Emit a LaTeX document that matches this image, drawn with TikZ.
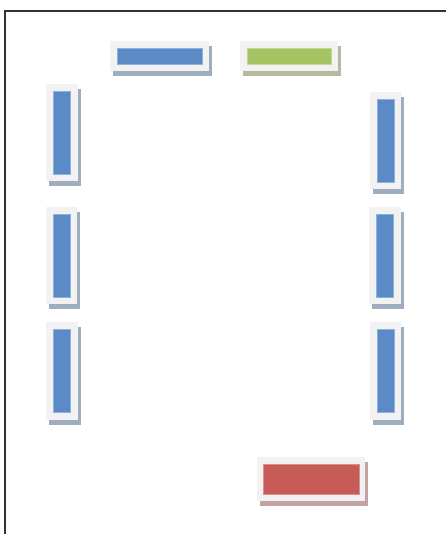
\documentclass[tikz,border=0pt]{standalone}
\usepackage{xcolor}
\usepackage{tikz}
\usetikzlibrary{positioning, fit, backgrounds, shadows}
\definecolor{tilebg}{HTML}{F2F2F2}
\definecolor{framedraw}{HTML}{333333}
\definecolor{bluefill}{HTML}{5B8BC6}
\definecolor{bluedraw}{HTML}{8FB0DA}
\definecolor{blueshade}{HTML}{9FAEBF}
\definecolor{greenfill}{HTML}{A5C363}
\definecolor{greendraw}{HTML}{C4D894}
\definecolor{greenshade}{HTML}{B3BA9D}
\definecolor{redfill}{HTML}{C75B57}
\definecolor{reddraw}{HTML}{DE8F8B}
\definecolor{redshade}{HTML}{C3A2A2}
\tikzset{
  bar/.style={rectangle, inner sep=0pt, line width=0.6pt},
  hbar/.style={bar, draw=bluedraw, fill=bluefill, minimum width=85pt, minimum height=16pt},
  vbar/.style={bar, draw=bluedraw, fill=bluefill, minimum width=17pt, minimum height=83pt},
  gbar/.style={bar, draw=greendraw, fill=greenfill, minimum width=84pt, minimum height=16pt},
  rbar/.style={bar, draw=reddraw, fill=redfill, minimum width=96pt, minimum height=30pt},
  tile/.style={rectangle, fill=tilebg, inner sep=7pt,
    drop shadow={shadow xshift=3pt, shadow yshift=-5pt, fill=#1, opacity=1}},
  tile/.default=blueshade,
}

\begin{document}
\begin{tikzpicture}[x=1pt, y=-1pt]
  \useasboundingbox (0,0) rectangle (446,534);
  % frame
  \draw[framedraw, line width=1.5pt] (5,534) |- (446,11);
  % bars along the top
  \node[hbar] (topA) at (159.5,56) {};
  \node[gbar] (topB) at (289,56) {};
  % left column
  \node[vbar] (leftA) at (62,132.5) {};
  \node[vbar] (leftB) at (61.5,255.5) {};
  \node[vbar] (leftC) at (62,371) {};
  % right column
  \node[vbar] (rightA) at (385.5,140.5) {};
  \node[vbar] (rightB) at (385,255.5) {};
  \node[vbar] (rightC) at (385.5,371) {};
  % bar at the bottom
  \node[rbar] (bottom) at (311,479) {};
  \begin{scope}[on background layer]
    \node[tile, fit=(topA)] (topAtile) {};
    \node[tile=greenshade, fit=(topB)] (topBtile) {};
    \node[tile, fit=(leftA)] (leftAtile) {};
    \node[tile, fit=(leftB)] (leftBtile) {};
    \node[tile, fit=(leftC)] (leftCtile) {};
    \node[tile, fit=(rightA)] (rightAtile) {};
    \node[tile, fit=(rightB)] (rightBtile) {};
    \node[tile, fit=(rightC)] (rightCtile) {};
    \node[tile=redshade, fit=(bottom), inner xsep=6pt] (bottomtile) {};
  \end{scope}
\end{tikzpicture}
\end{document}
